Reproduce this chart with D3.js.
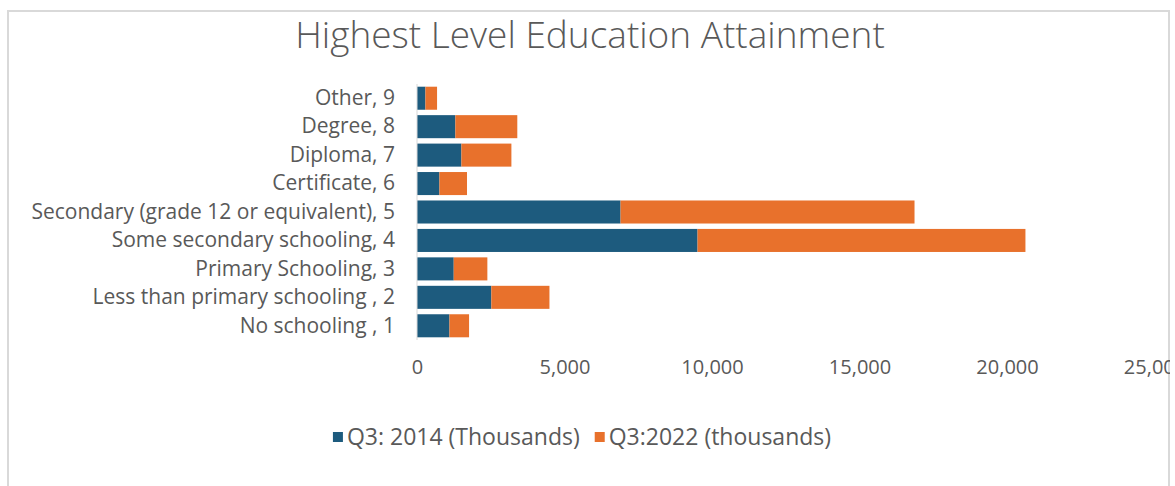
<!DOCTYPE html>
<html>
<head>
<meta charset="utf-8">
<script src="https://cdn.jsdelivr.net/npm/d3@7"></script>
<style>
  body { margin: 0; background: #fff; }
  text { font-family: "Open Sans", "Noto Sans", sans-serif; fill: #595959; }
</style>
</head>
<body>
<div id="chart"></div>
<script>
// Data
var categories = [
  "Other, 9",
  "Degree, 8",
  "Diploma, 7",
  "Certificate, 6",
  "Secondary (grade 12 or equivalent), 5",
  "Some secondary schooling, 4",
  "Primary Schooling, 3",
  "Less than primary schooling , 2",
  "No schooling , 1"
];
var q3_2014 = [285, 1300, 1505, 760, 6900, 9510, 1245, 2520, 1100];
var q3_2022 = [395, 2100, 1695, 935, 9965, 11115, 1140, 1970, 665];
var seriesNames = ["Q3: 2014 (Thousands)", "Q3:2022 (thousands)"];
var xTicks = [0, 5000, 10000, 15000, 20000, 25000];
var colors = ["#1d5b7e", "#e8712c"];

var svgWidth = 1175;
var svgHeight = 486;

var margin = { top: 84, right: 20, bottom: 146, left: 417 };
var plotWidth = 737.5;
var height = svgHeight - margin.top - margin.bottom;

var svg = d3.select("#chart")
  .append("svg")
  .attr("width", svgWidth)
  .attr("height", svgHeight);

// chart frame (left, top, right edges visible)
svg.append("path")
  .attr("d", "M8,486 L8,11 L1169,11 L1169,486")
  .attr("fill", "none")
  .attr("stroke", "#d9d9d9")
  .attr("stroke-width", 2);

// title
svg.append("text")
  .attr("x", 590)
  .attr("y", 48)
  .attr("text-anchor", "middle")
  .style("font-size", "37px")
  .style("font-weight", 300)
  .text("Highest Level Education Attainment");

var chartGroup = svg.append("g")
  .attr("transform", `translate(${margin.left}, ${margin.top})`);

// stack the two series
var rows = categories.map(function(c, i) {
  return { cat: c, a: q3_2014[i], b: q3_2022[i] };
});
var stack = d3.stack().keys(["a", "b"]);
var stacked = stack(rows);

var xScale = d3.scaleLinear()
  .domain([0, 25000])
  .range([0, plotWidth]);

var yScale = d3.scaleBand()
  .domain(categories)
  .range([0, height])
  .paddingInner(0.19)
  .paddingOuter(0.095);

// bars
chartGroup.selectAll(".series")
  .data(stacked)
  .enter()
  .append("g")
  .attr("class", "series")
  .attr("fill", (d, i) => colors[i])
  .selectAll("rect")
  .data(d => d)
  .enter()
  .append("rect")
  .attr("x", d => xScale(d[0]))
  .attr("width", d => xScale(d[1]) - xScale(d[0]))
  .attr("y", d => yScale(d.data.cat))
  .attr("height", yScale.bandwidth());

// vertical axis line
chartGroup.append("line")
  .attr("x1", 0).attr("x2", 0)
  .attr("y1", 0).attr("y2", height)
  .attr("stroke", "#d9d9d9")
  .attr("stroke-width", 1);

// category labels
var leftAxis = d3.axisLeft(yScale).tickSize(0).tickPadding(22);
var yAxis = chartGroup.append("g").call(leftAxis);
yAxis.select(".domain").remove();
yAxis.selectAll("text")
  .style("font-size", "21px")
  .attr("fill", null);

// x tick labels
var bottomAxis = d3.axisBottom(xScale)
  .tickValues(xTicks)
  .tickSize(0)
  .tickPadding(20)
  .tickFormat(d3.format(","));
var xAxis = chartGroup.append("g")
  .attr("transform", `translate(0, ${height})`)
  .call(bottomAxis);
xAxis.select(".domain").remove();
xAxis.selectAll("text")
  .style("font-size", "20px")
  .attr("fill", null);

// clip anything beyond the right border
svg.append("rect")
  .attr("x", 1170).attr("y", 0)
  .attr("width", 10).attr("height", svgHeight)
  .attr("fill", "#fff");

// legend, centred under the chart
var legend = svg.append("g");
var cursor = 0;
seriesNames.forEach(function(name, i) {
  legend.append("rect")
    .attr("x", cursor)
    .attr("y", 432)
    .attr("width", 10)
    .attr("height", 10)
    .attr("fill", colors[i]);
  var t = legend.append("text")
    .attr("x", cursor + 14)
    .attr("y", 445)
    .style("font-size", "23px")
    .text(name);
  cursor += 14 + t.node().getComputedTextLength() + 15;
});
var legendWidth = cursor - 15;
legend.attr("transform", `translate(${582 - legendWidth / 2}, 0)`);
</script>
</body>
</html>
